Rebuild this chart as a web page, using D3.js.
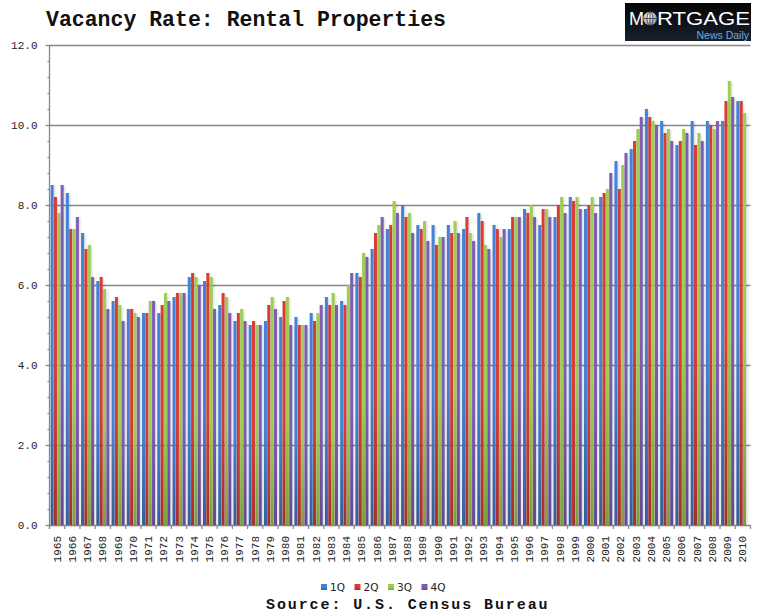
<!DOCTYPE html>
<html>
<head>
<meta charset="utf-8">
<script src="https://cdn.jsdelivr.net/npm/d3@7"></script>
<style>
  body { margin: 0; background: #fff; }
  svg { display: block; }
</style>
</head>
<body>
<div id="chart"></div>
<script>
"use strict"

// quarterly rental vacancy rates, 1965 - 2010 (2010 has no 4Q yet)
var years = d3.range(1965, 2011).map(String);
var quarters = ['1Q', '2Q', '3Q', '4Q'];

var q1 = [8.5, 8.3, 7.3, 6.1, 5.6, 5.4, 5.3, 5.3, 5.7, 6.2, 6.1, 5.5, 5.1, 5.0, 5.1, 5.2, 5.2, 5.3, 5.7, 5.6,
          6.3, 6.9, 7.4, 8.0, 7.5, 7.5, 7.5, 7.4, 7.8, 7.5, 7.4, 7.9, 7.5, 7.7, 8.2, 7.9, 8.2, 9.1, 9.4, 10.4,
          10.1, 9.5, 10.1, 10.1, 10.1, 10.6];
var q2 = [8.2, 7.4, 6.9, 6.2, 5.7, 5.4, 5.3, 5.5, 5.8, 6.3, 6.3, 5.8, 5.3, 5.1, 5.5, 5.6, 5.0, 5.1, 5.5, 5.5,
          6.2, 7.3, 7.5, 7.7, 7.4, 7.0, 7.3, 7.7, 7.6, 7.4, 7.7, 7.8, 7.9, 8.0, 8.1, 8.0, 8.3, 8.4, 9.6, 10.2,
          9.8, 9.6, 9.5, 10.0, 10.6, 10.6];
var q3 = [7.8, 7.4, 7.0, 5.9, 5.5, 5.3, 5.6, 5.8, 5.8, 6.2, 6.2, 5.7, 5.4, 5.0, 5.7, 5.7, 5.0, 5.3, 5.8, 6.0,
          6.8, 7.5, 8.1, 7.8, 7.6, 7.2, 7.6, 7.3, 7.0, 7.2, 7.7, 8.0, 7.9, 8.2, 8.2, 8.2, 8.4, 9.0, 9.9, 10.1,
          9.9, 9.9, 9.8, 9.9, 11.1, 10.3];
var q4 = [8.5, 7.7, 6.2, 5.4, 5.1, 5.2, 5.6, 5.6, 5.8, 6.0, 5.4, 5.3, 5.1, 5.0, 5.4, 5.0, 5.0, 5.5, 5.5, 6.3,
          6.7, 7.7, 7.8, 7.3, 7.1, 7.2, 7.3, 7.1, 6.9, 7.4, 7.7, 7.7, 7.7, 7.8, 7.9, 7.8, 8.8, 9.3, 10.2, 10.0,
          9.6, 9.8, 9.6, 10.1, 10.7, null];

var yTicks = [0, 2, 4, 6, 8, 10, 12];

var seriesColors = {
    '1Q': ['#4083d8', '#335f9c'],
    '2Q': ['#d73c37', '#a5302c'],
    '3Q': ['#9fcd52', '#7c9f3e'],
    '4Q': ['#7f5db2', '#634892']
};

var svgW = 757,
    svgH = 615,
    plotLeft = 49.5,
    plotRight = 750.5,
    plotTop = 45,
    plotBottom = 525;

var svg = d3.select('#chart').append('svg')
    .attr('width', svgW)
    .attr('height', svgH);

var defs = svg.append('defs');
quarters.forEach(function (q, i) {
    var g = defs.append('linearGradient')
        .attr('id', 'grad' + i)
        .attr('x1', 0).attr('y1', 0).attr('x2', 0).attr('y2', 1);
    g.append('stop').attr('offset', '0%').attr('stop-color', seriesColors[q][0]);
    g.append('stop').attr('offset', '55%').attr('stop-color', seriesColors[q][0]);
    g.append('stop').attr('offset', '100%').attr('stop-color', seriesColors[q][1]);
});
defs.append('filter').attr('id', 'soft')
    .attr('x', '-50%').attr('y', '-5%').attr('width', '200%').attr('height', '110%')
    .append('feGaussianBlur').attr('stdDeviation', 0.9);

var logoGrad = defs.append('linearGradient')
    .attr('id', 'logoGrad').attr('x1', 0).attr('y1', 0).attr('x2', 0).attr('y2', 1);
logoGrad.append('stop').attr('offset', '0%').attr('stop-color', '#050505');
logoGrad.append('stop').attr('offset', '100%').attr('stop-color', '#16202c');

var globeGrad = defs.append('radialGradient').attr('id', 'globeGrad')
    .attr('cx', '40%').attr('cy', '35%').attr('r', '70%');
globeGrad.append('stop').attr('offset', '0%').attr('stop-color', '#ffffff');
globeGrad.append('stop').attr('offset', '100%').attr('stop-color', '#8a8f96');

// scales
var x0 = d3.scaleBand().domain(years).range([plotLeft, plotRight]).paddingInner(0.1).paddingOuter(0.05);
var x1 = d3.scaleBand().domain(quarters).range([0, x0.bandwidth()]).padding(0.1);
var y = d3.scaleLinear().domain([0, 12]).range([plotBottom, plotTop]);

var table = years.map(function (yr, i) {
    return { year: yr, values: [q1[i], q2[i], q3[i], q4[i]] };
});

// grid lines
svg.append('g').selectAll('line')
    .data(yTicks)
    .join('line')
    .attr('x1', plotLeft).attr('x2', plotRight)
    .attr('y1', function (d) { return Math.round(y(d)) + 0.5; })
    .attr('y2', function (d) { return Math.round(y(d)) + 0.5; })
    .style('stroke', '#878787')
    .style('stroke-width', 1.3);

// bars
var groups = svg.append('g').selectAll('g')
    .data(table)
    .join('g')
    .attr('transform', function (d) { return 'translate(' + x0(d.year) + ',0)'; });

var cells = groups.selectAll('g')
    .data(function (d) {
        return d.values.map(function (v, i) { return { q: quarters[i], i: i, v: v }; })
            .filter(function (c) { return c.v != null; });
    })
    .join('g');

cells.append('rect')
    .attr('x', function (d) { return x1(d.q) + 1.3; })
    .attr('y', function (d) { return y(d.v) + 1; })
    .attr('width', x1.bandwidth())
    .attr('height', function (d) { return plotBottom - y(d.v) - 1; })
    .style('fill', '#000')
    .style('fill-opacity', 0.16)
    .attr('filter', 'url(#soft)');

cells.append('rect')
    .attr('x', function (d) { return x1(d.q); })
    .attr('y', function (d) { return y(d.v); })
    .attr('width', x1.bandwidth())
    .attr('height', function (d) { return plotBottom - y(d.v); })
    .style('fill', function (d) { return 'url(#grad' + d.i + ')'; });

// y axis
var yAxis = d3.axisLeft(y)
    .tickValues(yTicks)
    .tickSize(4)
    .tickPadding(8)
    .tickFormat(d3.format('.1f'));

var yg = svg.append('g')
    .attr('transform', 'translate(' + plotLeft + ',0)')
    .call(yAxis);
yg.select('.domain').remove();
yg.selectAll('line').style('stroke', '#878787').style('stroke-width', 1.2);
yg.selectAll('text')
    .style('font-family', '"Liberation Mono", "Courier New", monospace')
    .style('font-size', '11px')
    .style('fill', '#222');

// minor ticks every 0.4
svg.append('g').selectAll('line')
    .data(d3.range(0, 12.01, 0.4).filter(function (d) { return Math.abs(d / 2 - Math.round(d / 2)) > 0.01; }))
    .join('line')
    .attr('x1', plotLeft - 2).attr('x2', plotLeft)
    .attr('y1', function (d) { return Math.round(y(d)) + 0.5; })
    .attr('y2', function (d) { return Math.round(y(d)) + 0.5; })
    .style('stroke', '#878787')
    .style('stroke-width', 1.2);

svg.append('line')
    .attr('x1', plotLeft).attr('x2', plotLeft)
    .attr('y1', plotTop).attr('y2', plotBottom + 4)
    .style('stroke', '#878787')
    .style('stroke-width', 1.3);

// x axis: ticks on group boundaries, rotated year labels
var xg = svg.append('g');
xg.selectAll('line')
    .data(years.concat(['end']))
    .join('line')
    .attr('x1', function (d, i) { return plotLeft + i * x0.step(); })
    .attr('x2', function (d, i) { return plotLeft + i * x0.step(); })
    .attr('y1', plotBottom).attr('y2', plotBottom + 4)
    .style('stroke', '#878787')
    .style('stroke-width', 1.2);

xg.selectAll('text')
    .data(years)
    .join('text')
    .attr('transform', function (d) {
        return 'translate(' + (x0(d) + x0.bandwidth() / 2 + 3.5) + ',' + (plotBottom + 11) + ') rotate(-90)';
    })
    .attr('text-anchor', 'end')
    .style('font-family', '"Liberation Mono", "Courier New", monospace')
    .style('font-size', '11px')
    .style('fill', '#222')
    .text(function (d) { return d; });

// title
svg.append('text')
    .attr('x', 46).attr('y', 26)
    .style('font-family', '"Liberation Mono", "Courier New", monospace')
    .style('font-weight', 'bold')
    .style('font-size', '21.5px')
    .style('fill', '#111')
    .text('Vacancy Rate: Rental Properties');

// logo
var logo = svg.append('g');
logo.append('rect')
    .attr('x', 625).attr('y', 3)
    .attr('width', 126).attr('height', 38)
    .style('fill', 'url(#logoGrad)');
logo.append('text')
    .attr('x', 629).attr('y', 25)
    .style('font-family', '"Liberation Sans", Arial, sans-serif')
    .style('font-size', '19px')
    .style('fill', '#fff')
    .attr('textLength', 15).attr('lengthAdjust', 'spacingAndGlyphs')
    .text('M');
var globe = logo.append('g').attr('transform', 'translate(650,18.5)');
globe.append('circle').attr('r', 6.8).style('fill', 'url(#globeGrad)');
globe.append('ellipse').attr('rx', 3).attr('ry', 6.8).style('fill', 'none').style('stroke', '#333').style('stroke-width', 0.8);
globe.append('line').attr('x1', -6.8).attr('x2', 6.8).style('stroke', '#333').style('stroke-width', 0.8);
globe.append('line').attr('y1', -6.8).attr('y2', 6.8).style('stroke', '#333').style('stroke-width', 0.8);
logo.append('text')
    .attr('x', 657).attr('y', 25)
    .style('font-family', '"Liberation Sans", Arial, sans-serif')
    .style('font-size', '19px')
    .style('fill', '#fff')
    .attr('textLength', 93).attr('lengthAdjust', 'spacingAndGlyphs')
    .text('RTGAGE');
logo.append('text')
    .attr('x', 749).attr('y', 38.5)
    .attr('text-anchor', 'end')
    .style('font-family', '"Liberation Sans", Arial, sans-serif')
    .style('font-size', '10.5px')
    .style('fill', '#6fa9e2')
    .text('News Daily');

// legend
var legend = svg.append('g').selectAll('g')
    .data(quarters)
    .join('g')
    .attr('transform', function (d, i) { return 'translate(' + (321 + i * 33.5) + ',584)'; });
legend.append('rect')
    .attr('width', 6).attr('height', 6)
    .style('fill', function (d, i) { return 'url(#grad' + i + ')'; });
legend.append('text')
    .attr('x', 9).attr('y', 7)
    .style('font-family', '"DejaVu Sans", Verdana, sans-serif')
    .style('font-size', '10.5px')
    .style('fill', '#222')
    .text(function (d) { return d; });

// source
svg.append('text')
    .attr('x', 266).attr('y', 609)
    .style('font-family', '"Liberation Mono", "Courier New", monospace')
    .style('font-weight', 'bold')
    .style('font-size', '15px')
    .style('letter-spacing', '1.9px')
    .style('fill', '#111')
    .text('Source: U.S. Census Bureau');
</script>
</body>
</html>
